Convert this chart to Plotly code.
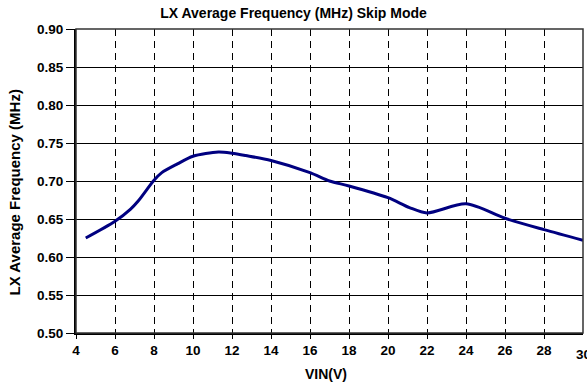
import plotly.graph_objects as go

# Average LX switching frequency vs input voltage (skip mode)
vin = [4.5, 6, 6.8, 7.2, 8, 8.4, 9.2, 10, 11.3, 12, 12.7, 14, 16, 17, 18, 20, 21.1, 22, 24, 26, 28, 30]
freq_mhz = [0.625, 0.647, 0.663, 0.674, 0.701, 0.711, 0.7225, 0.7325, 0.738, 0.7365, 0.7335,
            0.727, 0.711, 0.700, 0.6935, 0.678, 0.665, 0.658, 0.670, 0.651, 0.636, 0.622]

x_ticks = list(range(4, 31, 2))
y_ticks = [0.50, 0.55, 0.60, 0.65, 0.70, 0.75, 0.80, 0.85, 0.90]

FONT = "Liberation Sans, Arial, sans-serif"
TICK_SIZE = 13.5

fig = go.Figure()
fig.add_trace(go.Scatter(
    x=vin, y=freq_mhz, mode="lines",
    line=dict(color="#000080", width=3, shape="spline", smoothing=0.8),
    showlegend=False, hoverinfo="skip",
))

annotations = [
    dict(text="<b>LX Average Frequency (MHz)</b>", xref="paper", yref="paper",
         x=0, y=0.5, xanchor="center", yanchor="middle", xshift=-62.5, yshift=-12,
         textangle=-90, showarrow=False, font=dict(size=15, family=FONT, color="black")),
    dict(text="<b>VIN(V)</b>", xref="paper", yref="paper",
         x=0.5, y=0, xanchor="center", yanchor="middle", xshift=-4, yshift=-40.5,
         showarrow=False, font=dict(size=14, family=FONT, color="black")),
]
# the last x label runs past the right edge of the page, so it is placed by hand
annotations.append(dict(
    text=f"<b>{x_ticks[-1]}</b>", xref="x", yref="paper", x=x_ticks[-1], y=0,
    xanchor="center", yanchor="middle", yshift=-21.5, showarrow=False,
    font=dict(size=TICK_SIZE, family=FONT, color="black"),
))

fig.update_layout(
    width=587, height=383,
    margin=dict(l=76, r=4, t=29, b=50),
    paper_bgcolor="white", plot_bgcolor="white",
    font=dict(family=FONT, color="black"),
    title=dict(text="<b>LX Average Frequency (MHz) Skip Mode</b>",
               x=0.5, xref="container", xanchor="center",
               y=1 - 13 / 383, yanchor="middle",
               font=dict(size=14, family=FONT, color="black")),
    xaxis=dict(
        range=[4, 30], tickvals=x_ticks[:-1], ticktext=[f"<b>{v}</b>" for v in x_ticks[:-1]],
        tickfont=dict(size=TICK_SIZE, family=FONT, color="black"),
        ticks="outside", ticklen=4, tickwidth=1, tickcolor="black",
        showline=True, linecolor="black", linewidth=2,
        showgrid=True, gridcolor="black", gridwidth=1, griddash="7px,5px",
        zeroline=False, fixedrange=True,
    ),
    yaxis=dict(
        range=[0.50, 0.90], tickvals=y_ticks, ticktext=[f"<b>{v:.2f}</b>" for v in y_ticks],
        tickfont=dict(size=TICK_SIZE, family=FONT, color="black"),
        ticks="outside", ticklen=8, tickwidth=1, tickcolor="black",
        showline=True, linecolor="black", linewidth=2,
        showgrid=True, gridcolor="black", gridwidth=1,
        zeroline=False, fixedrange=True,
    ),
    shapes=[dict(type="rect", xref="paper", yref="paper", x0=0, x1=1, y0=0, y1=1,
                 line=dict(color="#333333", width=1.5), layer="above")],
    annotations=annotations,
)

fig.write_html("out.html")
